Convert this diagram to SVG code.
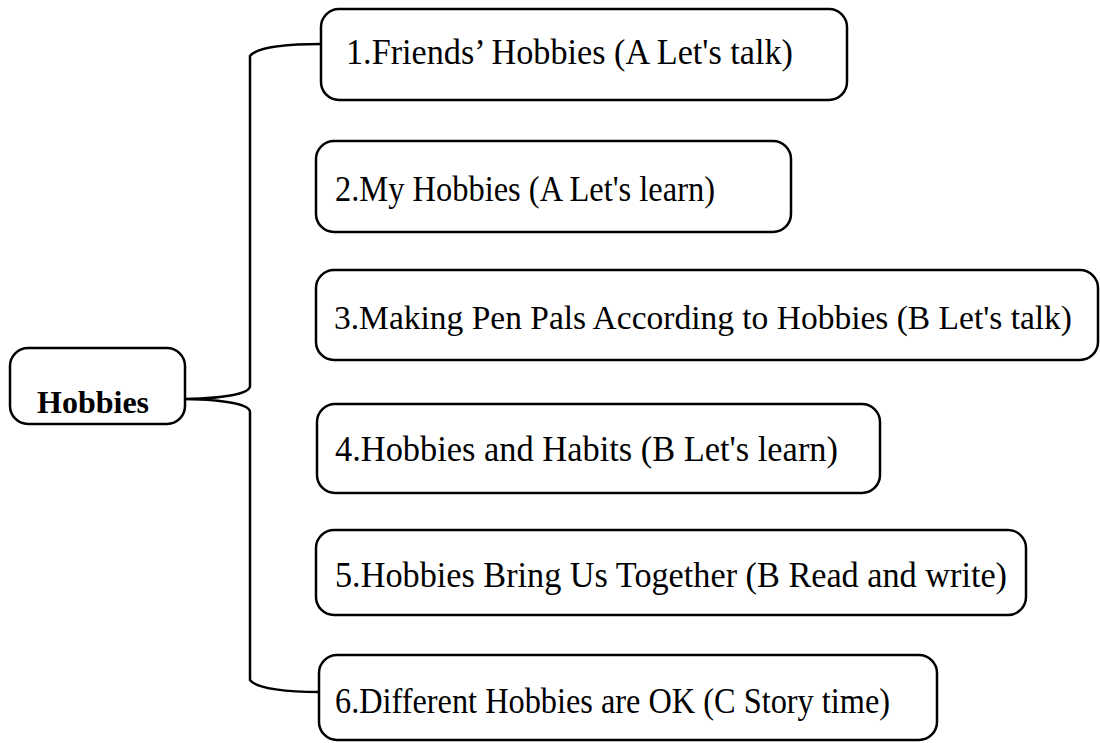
<svg xmlns="http://www.w3.org/2000/svg" width="1100" height="743" viewBox="0 0 1100 743">
<style>
.box{fill:#fff;stroke:#000;stroke-width:2.5}
.t{font-family:"Liberation Serif","Times New Roman",serif;font-size:35px;fill:#000}
.t3{font-size:33px}
.b{font-family:"Liberation Serif","Times New Roman",serif;font-size:32px;font-weight:bold;fill:#000}
.c{fill:none;stroke:#000;stroke-width:2.5}
</style>
<rect width="1100" height="743" fill="#fff"/>
<g id="connectors">
<path class="c" d="M321,44 C290,44 258,46 250,56 L250,386 C250,394 222,399 177,399 M177,399 C222,399 250,404 250,412 L250,680 C256,689 290,692 319,692"/>
</g>
<g id="hobbies">
<rect class="box" x="10" y="348" width="175" height="76" rx="18"/>
<text class="b" x="37" y="413">Hobbies</text>
</g>
<g id="n1">
<rect class="box" x="321" y="9" width="526" height="91" rx="18"/>
<text class="t" x="346" y="64" textLength="447" lengthAdjust="spacingAndGlyphs">1.Friends’ Hobbies (A Let's talk)</text>
</g>
<g id="n2">
<rect class="box" x="316" y="141" width="475" height="91" rx="18"/>
<text class="t" x="335" y="201" textLength="380" lengthAdjust="spacingAndGlyphs">2.My Hobbies (A Let's learn)</text>
</g>
<g id="n3">
<rect class="box" x="316" y="270" width="782" height="90" rx="18"/>
<text class="t t3" x="334" y="329" textLength="738" lengthAdjust="spacingAndGlyphs">3.Making Pen Pals According to Hobbies (B Let's talk)</text>
</g>
<g id="n4">
<rect class="box" x="317" y="404" width="563" height="89" rx="18"/>
<text class="t" x="335" y="461" textLength="503" lengthAdjust="spacingAndGlyphs">4.Hobbies and Habits (B Let's learn)</text>
</g>
<g id="n5">
<rect class="box" x="316" y="530" width="710" height="85" rx="18"/>
<text class="t" x="335" y="587" textLength="672" lengthAdjust="spacingAndGlyphs">5.Hobbies Bring Us Together (B Read and write)</text>
</g>
<g id="n6">
<rect class="box" x="319" y="655" width="618" height="85" rx="18"/>
<text class="t" x="335" y="713" textLength="555" lengthAdjust="spacingAndGlyphs">6.Different Hobbies are OK (C Story time)</text>
</g>
</svg>
